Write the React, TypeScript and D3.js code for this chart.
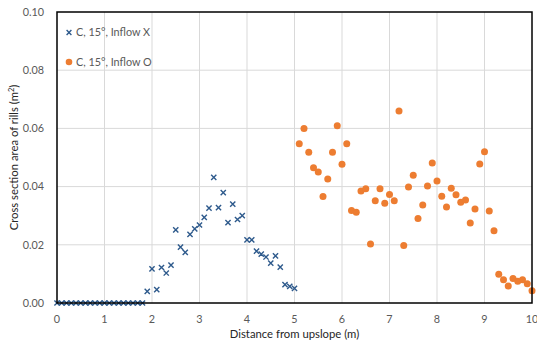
import { useMemo } from "react";
import * as d3 from "d3";

// Distances (m), sampled every 0.1 m
const blueX = d3.range(0, 51).map((i) => +(i * 0.1).toFixed(1)); // 0.0 .. 5.0
const blueY = [
  0, 0, 0, 0, 0, 0, 0, 0, 0, 0,
  0, 0, 0, 0, 0, 0, 0, 0, 0, 0.004,
  0.0117, 0.0046, 0.0122, 0.0103, 0.013, 0.0251, 0.0192, 0.0174, 0.0236, 0.0255,
  0.0268, 0.0294, 0.0326, 0.0432, 0.0328, 0.0379, 0.0276, 0.034, 0.0287, 0.03,
  0.0217, 0.0217, 0.0178, 0.0168, 0.0158, 0.0137, 0.0162, 0.0123, 0.0063, 0.0057,
  0.005,
];

const orangeX = d3.range(51, 101).map((i) => +(i * 0.1).toFixed(1)); // 5.1 .. 10.0
const orangeY = [
  0.0547, 0.06, 0.0518, 0.0465, 0.045, 0.0366, 0.0426, 0.0518, 0.0609, 0.0477,
  0.0547, 0.0318, 0.0312, 0.0385, 0.0393, 0.0203, 0.0351, 0.0393, 0.0343, 0.0373,
  0.0351, 0.066, 0.0198, 0.0399, 0.0439, 0.029, 0.0337, 0.0402, 0.0481, 0.0419,
  0.0367, 0.033, 0.0394, 0.0372, 0.0346, 0.0354, 0.0275, 0.0323, 0.0478, 0.052,
  0.0316, 0.0248, 0.0099, 0.008, 0.0058, 0.0084, 0.0075, 0.008, 0.0066, 0.0042,
];

const xTicks = [0, 1, 2, 3, 4, 5, 6, 7, 8, 9, 10];
const yTicks = [0, 0.02, 0.04, 0.06, 0.08, 0.1];

const seriesNames = ["C, 15°, Inflow X", "C, 15°, Inflow O"];

const W = 537;
const H = 345;
const margin = { top: 12, right: 5, bottom: 42, left: 57 };
const FONT = "Lato, 'Open Sans', sans-serif";
const BLUE = "#2e5a8c";
const ORANGE = "#ed7d31";

export default function App() {
  const x = useMemo(
    () => d3.scaleLinear().domain([0, 10]).range([margin.left, W - margin.right]),
    []
  );
  const y = useMemo(
    () => d3.scaleLinear().domain([0, 0.1]).range([H - margin.bottom, margin.top]),
    []
  );

  const x0 = x(0), x1 = x(10), y0 = y(0), y1 = y(0.1);

  const cross = (cx: number, cy: number, s = 2.6) =>
    `M${cx - s},${cy - s}L${cx + s},${cy + s}M${cx - s},${cy + s}L${cx + s},${cy - s}`;

  return (
    <svg
      width={W}
      height={H}
      style={{ position: "absolute", left: 0, top: 0, background: "#fff" }}
      fontFamily={FONT}
    >
      {/* grid */}
      {xTicks.slice(1, -1).map((t) => (
        <line key={"gx" + t} x1={x(t)} x2={x(t)} y1={y1} y2={y0} stroke="#d9d9d9" strokeWidth={1} />
      ))}
      {yTicks.slice(1, -1).map((t) => (
        <line key={"gy" + t} x1={x0} x2={x1} y1={y(t)} y2={y(t)} stroke="#d9d9d9" strokeWidth={1} />
      ))}

      {/* tick labels */}
      {yTicks.map((t) => (
        <text key={"ty" + t} x={x0 - 13} y={y(t)} dy="0.35em" textAnchor="end" fontSize={10.8} fill="#595959">
          {d3.format(".2f")(t)}
        </text>
      ))}
      {xTicks.map((t) => (
        <text key={"tx" + t} x={x(t)} y={y0 + 16} dy="0.35em" textAnchor="middle" fontSize={10.8} fill="#595959">
          {t}
        </text>
      ))}

      {/* axis titles */}
      <text x={(x0 + x1) / 2} y={H - 7} textAnchor="middle" fontSize={11.3} fill="#262626">
        Distance from upslope (m)
      </text>
      <text
        transform={`translate(18,${(y0 + y1) / 2}) rotate(-90)`}
        textAnchor="middle"
        fontSize={11.3}
        fill="#262626"
      >
        Cross section area of rills (m<tspan baselineShift="super" fontSize={7.5}>2</tspan>)
      </text>

      {/* series */}
      {blueX.map((d, i) => (
        <path key={"b" + i} d={cross(x(d), y(blueY[i]))} stroke={BLUE} strokeWidth={1.4} fill="none" />
      ))}
      {orangeX.map((d, i) => (
        <circle key={"o" + i} cx={x(d)} cy={y(orangeY[i])} r={3.5} fill={ORANGE} />
      ))}

      {/* plot border */}
      <rect x={x0} y={y1} width={x1 - x0} height={y0 - y1} fill="none" stroke="#000" strokeWidth={1.5} />

      {/* legend */}
      <path d={cross(69, 32.5, 2.4)} stroke={BLUE} strokeWidth={1.4} fill="none" />
      <text x={76} y={32.5} dy="0.35em" fontSize={10.8} fill="#595959">{seriesNames[0]}</text>
      <circle cx={69} cy={62} r={3.3} fill={ORANGE} />
      <text x={76} y={62} dy="0.35em" fontSize={10.8} fill="#595959">{seriesNames[1]}</text>
    </svg>
  );
}
